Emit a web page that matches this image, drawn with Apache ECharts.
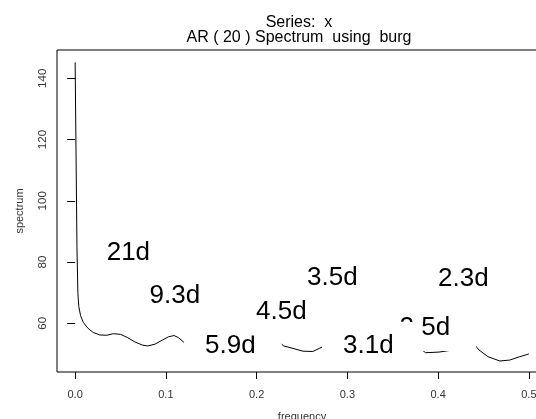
<!DOCTYPE html>
<html>
<head>
<meta charset="utf-8">
<script src="https://cdn.jsdelivr.net/npm/echarts@6/dist/echarts.min.js"></script>
<style>
html,body{margin:0;padding:0;background:#fff;}
#chart{width:536px;height:419px;}
</style>
</head>
<body>
<div id="chart"></div>
<script>
// ---- data ----
const titleLines = ['Series:  x', 'AR ( 20 ) Spectrum  using  burg'];
const xName = 'frequency';
const yName = 'spectrum';
const xTicks = [0, 0.1, 0.2, 0.3, 0.4, 0.5];
const yTicks = [60, 80, 100, 120, 140];

const freq = [0, 0.001, 0.002, 0.003, 0.004, 0.006, 0.009, 0.014, 0.020, 0.027, 0.035, 0.042, 0.050, 0.058, 0.066, 0.074, 0.080, 0.088, 0.096, 0.103, 0.109, 0.114, 0.119,
  0.125, 0.135, 0.150, 0.165, 0.172, 0.185, 0.200, 0.212, 0.222,
  0.230, 0.240, 0.251, 0.262, 0.269, 0.278,
  0.288, 0.298, 0.310, 0.323, 0.335, 0.350, 0.364, 0.376,
  0.386, 0.401, 0.412, 0.417,
  0.424, 0.431, 0.438,
  0.445, 0.455, 0.468, 0.479, 0.490, 0.499, 0.500];
const spec = [145.2, 115, 85, 70, 65.5, 62.5, 60.3, 58.4, 57.0, 56.2, 56.1, 56.6, 56.4, 55.3, 53.9, 52.9, 52.6, 53.2, 54.5, 55.6, 56.0, 55.3, 54.0,
  52.5, 51.2, 52.5, 56.0, 56.5, 53.5, 51.5, 53.5, 54.5,
  52.6, 51.8, 50.9, 50.8, 51.8, 53.1,
  56.5, 56.0, 53.0, 57.5, 54.0, 52.0, 57.0, 53.0,
  50.4, 50.6, 51.1, 51.3,
  53.5, 55.0, 53.8,
  51.3, 49.1, 47.7, 48.0, 49.1, 49.9, 50.0];

// period labels (drawn in this order), placed at (frequency, spectrum)
const labelText = ['21d', '9.3d', '5.9d', '3.5d', '4.5d', '2.3d', '2.5d', '3.1d'];
const labelFreq = [0.0614, 0.1126, 0.1738, 0.2862, 0.2300, 0.4306, 0.3882, 0.3259];
const labelSpec = [83.1, 68.9, 52.5, 74.95, 63.7, 74.6, 58.6, 52.75];

// ---- chart ----
const chart = echarts.init(document.getElementById('chart'), null, {renderer: 'canvas'});
const FONT = '"Liberation Sans", Arial, Helvetica, sans-serif';
const pad = [13, 26, 8, 21];

const option = {
  animation: false,
  backgroundColor: '#fff',
  title: {
    text: titleLines.join('\n'),
    left: 299,
    top: 15,
    textAlign: 'center',
    padding: 0,
    textStyle: {fontFamily: FONT, fontSize: 16, fontWeight: 'normal', color: '#000', lineHeight: 15}
  },
  grid: {
    left: 57, top: 50, width: 490, height: 322,
    containLabel: false, outerBoundsMode: 'none',
    show: true, borderColor: '#000', borderWidth: 1, backgroundColor: 'transparent'
  },
  xAxis: {
    type: 'value', min: -0.02, max: 0.52,
    name: xName, nameLocation: 'middle', nameGap: 39,
    nameTextStyle: {fontFamily: FONT, fontSize: 11, color: '#333'},
    axisLine: {show: false},
    splitLine: {show: false},
    axisTick: {show: true, inside: false, length: 7, customValues: xTicks, lineStyle: {color: '#000', width: 1}},
    axisLabel: {show: true, customValues: xTicks, margin: 17, fontFamily: FONT, fontSize: 11, color: '#333',
      formatter: v => v.toFixed(1)}
  },
  yAxis: {
    type: 'value', min: 44.1, max: 149.24,
    name: yName, nameLocation: 'middle', nameGap: 32, nameRotate: 90,
    nameTextStyle: {fontFamily: FONT, fontSize: 11, color: '#333'},
    axisLine: {show: false},
    splitLine: {show: false},
    axisTick: {show: true, inside: false, length: 8, customValues: yTicks, lineStyle: {color: '#000', width: 1}},
    axisLabel: {show: true, customValues: yTicks, rotate: 90, margin: 8, fontFamily: FONT, fontSize: 11.5, color: '#333'}
  },
  series: [
    {
      type: 'line',
      data: freq.map((f, i) => [f, spec[i]]),
      showSymbol: false,
      symbol: 'none',
      lineStyle: {color: '#000', width: 1},
      silent: true,
      z: 2
    },
    {
      type: 'scatter',
      data: labelText.map((t, i) => ({name: t, value: [labelFreq[i], labelSpec[i]]})),
      symbolSize: 1,
      itemStyle: {color: 'rgba(0,0,0,0)', opacity: 1},
      silent: true,
      z: 3,
      label: {
        show: true,
        position: 'inside',
        formatter: '{b}',
        fontFamily: FONT,
        fontSize: 26,
        lineHeight: 26,
        color: '#000',
        opacity: 1,
        backgroundColor: '#fff',
        padding: pad,
        offset: [(pad[1] - pad[3]) / 2 + 4.8, (pad[2] - pad[0]) / 2 + 3.5]
      },
      labelLayout: {hideOverlap: false}
    }
  ]
};
chart.setOption(option);
</script>
</body>
</html>
